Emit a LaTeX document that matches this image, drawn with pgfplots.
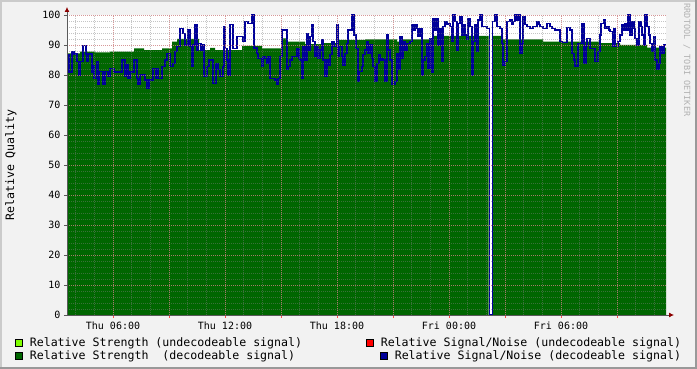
\documentclass[border=0pt]{standalone}
\usepackage{fontspec}
\setmainfont{DejaVu Sans Mono}
\usepackage{pgfplots}
\pgfplotsset{compat=1.18}
\usetikzlibrary{arrows.meta}
\definecolor{bg}{HTML}{F2F2F2}
\definecolor{shadeA}{HTML}{CBCBCB}
\definecolor{shadeB}{HTML}{999999}
\definecolor{dgreen}{HTML}{006600}
\definecolor{lgreen}{HTML}{80FF00}
\definecolor{dblue}{HTML}{000099}
\definecolor{mgrid}{HTML}{E08080}
\begin{document}
\begin{tikzpicture}
\fill[bg] (0,0) rectangle (697bp,369bp);
\draw[line width=2bp, shadeA] (1bp,0) -- (1bp,368bp) -- (697bp,368bp);
\draw[line width=2bp, shadeB] (0,1bp) -- (696bp,1bp) -- (696bp,369bp);
\begin{axis}[
  at={(67bp,54bp)}, anchor=south west,
  scale only axis, width=599bp, height=300bp,
  xmin=67, xmax=666, ymin=0, ymax=100,
  axis background/.style={fill=white},
  axis lines=left,
  axis on top,
  axis line style={draw=gray!70!black, line width=0.8bp, shorten >=-8bp, -{Latex[length=5bp,width=5bp,color=red!55!black]}},
  xtick={113,169,...,620},
  xticklabels={Thu 06:00,,Thu 12:00,,Thu 18:00,,Fri 00:00,,Fri 06:00,},
  minor xtick={75.667,94.333,...,666},
  ytick={0,10,...,100},
  minor ytick={0,2,...,100},
  grid=both,
  major grid style={mgrid, opacity=0.65, line width=0.7bp, dash pattern=on 1bp off 1bp},
  minor grid style={gray, opacity=0.45, line width=0.7bp, dash pattern=on 1bp off 1bp},
  tick align=outside,
  major tick length=3bp, minor tick length=0bp,
  xtick style={draw=red!70, line width=0.7bp},
  ytick style={draw=gray!70!black, line width=0.7bp},
  /pgf/number format/assume math mode=true,
  tick label style={font=\fontsize{10bp}{12bp}\selectfont, text=black},
  ylabel={Relative Quality},
  ylabel style={at={(axis description cs:-0.0935,0.5)}, anchor=center, font=\fontsize{11.6bp}{13bp}\selectfont},
  legend columns=2,
  legend cell align=left,
  legend image code/.code={\filldraw[#1] (0bp,-3.5bp) rectangle (7bp,3.5bp);},
  legend style={at={(axis description cs:-0.0868,-0.07)}, anchor=north west,
    draw=none, fill=none, inner sep=0pt,
    font=\fontsize{11.6bp}{13bp}\selectfont,
    row sep=1bp,
    nodes={inner sep=1bp},
    /tikz/every odd column/.append style={column sep=6bp},
    /tikz/every even column/.append style={column sep=63bp}},
]
\addlegendimage{fill=lgreen, draw=black, line width=0.6bp}
\addlegendentry{Relative Strength (undecodeable signal)}
\addlegendimage{fill=red, draw=black, line width=0.6bp}
\addlegendentry{Relative Signal/Noise (undecodeable signal)}
\addlegendimage{fill=dgreen, draw=black, line width=0.6bp}
\addlegendentry{Relative Strength~~(decodeable signal)}
\addlegendimage{fill=dblue, draw=black, line width=0.6bp, xshift=14bp, overlay}
\addlegendentry{\hspace*{14bp}Relative Signal/Noise (decodeable signal)}

\addplot[const plot, fill=dgreen, draw=none, forget plot] coordinates {
(67,87.2) (80,87.8) (95,87.5) (110,87.8) (134,88.9) (144,88.3) (162,88.9)
(172,91.1) (177,92) (199,88.3) (210,89) (215,88.3) (242,89.7) (262,88.9)
(282,92.2) (287,91.1) (305,90.3) (322,90.6) (339,91.7) (365,91.9) (397,91.1)
(403,91.9) (433,93) (488.7,0) (492.5,93) (503,91.9) (543,91.1) (600,90.6)
(620,90) (647,89.1) (666,89.1)
} \closedcycle;

\addplot[const plot, draw=dblue, line width=1.2bp, forget plot] coordinates {
(67,82) (68,86.7) (69,81) (72,87.8) (74,87) (77,84.4) (79,80) (80,84.4)
(83,89.8) (86,87) (87,84.4) (88,87) (92,81) (93,83) (94,78.9) (97,84.4)
(98,76.7) (99,81.1) (103,76.7) (105,81.1) (108,79.4) (110,82.2) (114,81)
(122,85) (125,79.4) (127,83.3) (128,78.9) (130,81) (134,85) (137,78.9)
(138,76.7) (140,80) (145,78.3) (147,75.6) (149,78.3) (153,82.2) (156,78.9)
(157,82.2) (158,78.9) (162,82.8) (165,85) (167,87.2) (170,82.8) (173,83.9)
(175,87.8) (177,89.4) (180,95.6) (183,93.9) (185,90) (188,95) (190,89.4)
(192,82.8) (193,90) (195,96.9) (197,88.3) (198,90.6) (201,88.3) (203,90)
(204,79.4) (207,82.8) (209,85) (213,77.2) (216,83.9) (218,81.7) (220,79.4)
(223,82.8) (224,96.1) (225,88.9) (227,85) (228,80) (230,96.7) (233,88.9)
(237,92.8) (243,91.1) (245,97.8) (248,97.2) (252,100) (254,89) (257,87.2)
(258,85.6) (262,82.8) (263,86.1) (265,85.6) (267,83.9) (268,86.1) (270,78.9)
(275,78.3) (277,76.7) (278,78.9) (280,86.1) (282,95) (287,81.7) (288,82.8)
(290,85) (292,86.1) (297,88.9) (299,85.6) (300,85) (302,78.9) (303,89.4)
(305,85) (307,93.9) (308,88.3) (310,92.8) (312,96.7) (313,91.1) (315,86.1)
(317,89.4) (318,85.6) (320,88.3) (322,91.7) (323,85) (325,79.4) (327,85)
(328,83.3) (330,86.7) (332,91.1) (334,89.4) (337,96.7) (338,86.1) (339,89.4)
(342,86.1) (343,83.3) (345,87.2) (347,90.6) (348,95) (352,100) (354,93.3)
(356,88.9) (358,77.8) (359,81.1) (362,82.8) (363,86.7) (365,88.3) (367,91.1)
(368,87.2) (370,90) (372,85.6) (373,82.8) (375,77.8) (377,83.9) (379,86.7)
(380,85) (382,85.6) (383,85) (385,77.8) (387,93.3) (388,88.3) (390,85)
(392,76.7) (395,77.8) (397,87.2) (398,81.7) (400,92.8) (402,85.6) (403,91.1)
(405,88.3) (407,90.6) (410,91.1) (412,96.7) (413,95) (415,96.7) (417,95.6)
(418,92.8) (420,95.6) (422,80) (423,85) (425,86.1) (427,90.6) (428,82.2)
(430,92.2) (432,80.8) (433,98.9) (435,95) (437,98.9) (438,90) (440,95.6)
(442,84.4) (443,96.1) (445,97.8) (447,96.7) (448,97.2) (450,96.1) (452,91.1)
(453,100) (455,97.8) (457,88.3) (458,97.2) (460,99.4) (462,93.3) (463,96.7)
(465,93.3) (467,91.7) (468,98.9) (470,96.1) (472,80) (473,91.1) (475,96.7)
(477,87.8) (478,98.3) (480,100) (482,96.1) (487,95.6) (489.3,0) (492.3,97.8)
(495,100) (497,96.1) (500,95.6) (502,90.6) (503,83.3) (505,84.4) (507,97.8)
(510,98.3) (512,96.7) (513,97.8) (515,100) (517,98.3) (518,100) (520,87.2)
(522,90.6) (523,99.4) (525,96.7) (527,96.1) (530,95.6) (533,96.1) (537,97.8)
(539,96.7) (540,96.1) (543,95.6) (547,97.2) (550,96.1) (552,95.6) (555,95)
(560,91.1) (562,90.8) (567,95.9) (570,95) (572,87.2) (574,85) (575,83)
(578,90.6) (582,97) (584,83.9) (586,89.4) (587,92.2) (590,88.9) (595,84.4)
(598,87.8) (600,93.3) (601,97.2) (604,98.3) (605,95.6) (607,96.1) (609,95)
(610,94.4) (613,89.4) (614,95.6) (615,89.4) (618,91.1) (620,93.3) (622,96.7)
(624,95) (625,97.2) (627,95) (628,100) (630,93.3) (632,97.8) (634,95.6)
(635,92.2) (637,90) (639,97.8) (641,96.1) (642,93.3) (644,90) (645,100)
(647,96.1) (649,93.3) (650,90.6) (652,87.8) (654,92.8) (655,85) (657,81.7)
(659,83.9) (660,89.4) (662,87.2) (664,90) (666,90)
};
\end{axis}
\node[rotate=-90, text=gray!60, font=\fontsize{8.5bp}{10bp}\selectfont] at (687bp,309bp) {RRDTOOL / TOBI OETIKER};
\pgfresetboundingbox
\path[use as bounding box] (0,0) rectangle (697bp,369bp);
\end{tikzpicture}
\end{document}
